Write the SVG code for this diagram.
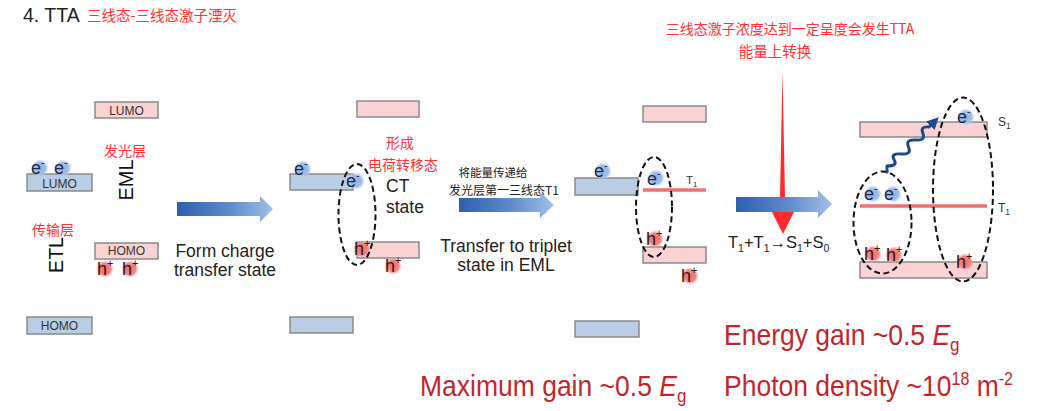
<svg xmlns="http://www.w3.org/2000/svg" width="1056" height="411" viewBox="0 0 1056 411">
<style>
  .lat { font-family: "Liberation Sans", Arial, sans-serif; }
  .cjk { font-family: "Noto Sans CJK SC", "Noto Sans", sans-serif; fill: #ff3333; }
  .boxB { fill: #b9cde5; stroke: #8a8a8a; stroke-width: 1.5; }
  .boxP { fill: #f9d3d3; stroke: #8a8a8a; stroke-width: 1.5; }
  .blab { font-family: "Liberation Sans", Arial, sans-serif; font-size: 12px; fill: #333; text-anchor: middle; }
  .big { font-family: "Liberation Sans", Arial, sans-serif; font-size: 17.5px; fill: #222; }
  .el { fill: none; stroke: #111; stroke-width: 2; stroke-dasharray: 6 3.5; }
  .t1 { stroke: #f07070; stroke-width: 3.5; }
  .ee { font-family: "Liberation Sans", Arial, sans-serif; font-size: 18px; fill: #1c2a4a; }
  .hh { font-family: "Liberation Sans", Arial, sans-serif; font-size: 18px; fill: #3a1414; }
  .sm { font-family: "Liberation Sans", Arial, sans-serif; font-size: 11.5px; fill: #333; }
  .res { font-family: "Liberation Sans", Arial, sans-serif; font-size: 26.5px; fill: #c0272d; }
  .gb { fill: url(#gB); }
  .gr { fill: url(#gR); }
</style>
<defs>
  <radialGradient id="gB">
    <stop offset="0" stop-color="#8fb0e0" stop-opacity="1"/>
    <stop offset="0.65" stop-color="#9fbce6" stop-opacity="0.95"/>
    <stop offset="1" stop-color="#c4d6f0" stop-opacity="0"/>
  </radialGradient>
  <radialGradient id="gR">
    <stop offset="0" stop-color="#ee6e6e" stop-opacity="1"/>
    <stop offset="0.65" stop-color="#f08080" stop-opacity="0.95"/>
    <stop offset="1" stop-color="#f6b0b0" stop-opacity="0"/>
  </radialGradient>
  <linearGradient id="ag" x1="0" y1="0" x2="1" y2="0">
    <stop offset="0" stop-color="#2f5fae"/>
    <stop offset="0.55" stop-color="#5f8bcc"/>
    <stop offset="1" stop-color="#a3bfe5"/>
  </linearGradient>
  <marker id="wh" viewBox="0 0 10 10" refX="2" refY="5" markerWidth="4" markerHeight="4" orient="auto" markerUnits="strokeWidth">
    <path d="M0,0 L10,5 L0,10 z" fill="#1f4a8a"/>
  </marker>
</defs>
<rect width="1056" height="411" fill="#ffffff"/>

<g id="title">
  <text class="lat" x="23" y="22" font-size="19.5" fill="#222">4. TTA</text>
  <text class="cjk" x="87" y="21" font-size="14.5">三线态-三线态激子湮灭</text>
</g>

<g id="panel1">
  <rect class="boxB" x="27" y="174" width="65" height="17"/>
  <text class="blab" x="59.5" y="187.5">LUMO</text>
  <rect class="boxB" x="27" y="317" width="65" height="17"/>
  <text class="blab" x="59.5" y="330">HOMO</text>
  <rect class="boxP" x="95" y="102" width="63" height="16"/>
  <text class="blab" x="126.5" y="114.5">LUMO</text>
  <rect class="boxP" x="95" y="243" width="63" height="16"/>
  <text class="blab" x="126.5" y="255">HOMO</text>
  <circle class="gb" cx="40" cy="168" r="9"/>
  <circle class="gb" cx="63" cy="168" r="9"/>
  <text class="ee" x="31" y="174">e<tspan dy="-8" font-size="11">-</tspan></text>
  <text class="ee" x="54" y="174">e<tspan dy="-8" font-size="11">-</tspan></text>
  <circle class="gr" cx="105" cy="269" r="9"/>
  <circle class="gr" cx="130" cy="269" r="9"/>
  <text class="hh" x="97" y="275">h<tspan dy="-8" font-size="11">+</tspan></text>
  <text class="hh" x="122" y="275">h<tspan dy="-8" font-size="11">+</tspan></text>
  <text class="cjk" x="104" y="156" font-size="14">发光层</text>
  <text class="cjk" x="32" y="235" font-size="14">传输层</text>
  <text class="lat" transform="translate(133,180) rotate(-90)" text-anchor="middle" font-size="20" fill="#111">EML</text>
  <text class="lat" transform="translate(63,255) rotate(-90)" text-anchor="middle" font-size="19.5" fill="#111">ETL</text>
</g>

<g id="step1">
  <path d="M177,202 L260,202 L260,196 L273,209 L260,222 L260,216 L177,216 Z" fill="url(#ag)"/>
  <text class="big" x="225" y="257" text-anchor="middle">Form charge</text>
  <text class="big" x="225" y="276" text-anchor="middle">transfer state</text>
</g>

<g id="panel2">
  <rect class="boxP" x="357" y="101" width="62" height="16"/>
  <rect class="boxB" x="290" y="174" width="63" height="16"/>
  <rect class="boxP" x="357" y="242" width="62" height="16"/>
  <rect class="boxB" x="290" y="317" width="63" height="16"/>
  <circle class="gb" cx="303" cy="169" r="9"/>
  <text class="ee" x="294" y="175">e<tspan dy="-8" font-size="11">-</tspan></text>
  <circle class="gb" cx="356" cy="181" r="9"/>
  <text class="ee" x="346" y="187">e<tspan dy="-8" font-size="11">-</tspan></text>
  <circle class="gr" cx="362" cy="249" r="9"/>
  <text class="hh" x="354" y="255">h<tspan dy="-8" font-size="11">+</tspan></text>
  <circle class="gr" cx="393" cy="266" r="9"/>
  <text class="hh" x="385" y="272">h<tspan dy="-8" font-size="11">+</tspan></text>
  <ellipse class="el" cx="357" cy="214.5" rx="18.5" ry="50.5"/>
  <text class="cjk" x="400" y="148" font-size="14" text-anchor="middle">形成</text>
  <text class="cjk" x="403" y="170" font-size="14" text-anchor="middle">电荷转移态</text>
  <text class="big" x="386" y="192">CT</text>
  <text class="big" x="386" y="213">state</text>
</g>

<g id="step2">
  <text class="cjk" x="493" y="177" font-size="11.5" text-anchor="middle" style="fill:#222">将能量传递给</text>
  <text class="cjk" x="504" y="194.5" font-size="12" text-anchor="middle" style="fill:#222">发光层第一三线态T1</text>
  <path d="M459,198 L540,198 L540,192 L554,205 L540,218 L540,212 L459,212 Z" fill="url(#ag)"/>
  <text class="big" x="506" y="252" text-anchor="middle">Transfer to triplet</text>
  <text class="big" x="506" y="271" text-anchor="middle">state in EML</text>
</g>

<g id="panel3">
  <rect class="boxP" x="643" y="106" width="63" height="16"/>
  <rect class="boxB" x="575" y="178" width="63" height="17"/>
  <line class="t1" x1="643" y1="190" x2="706" y2="190"/>
  <text class="sm" x="686" y="184">T<tspan dy="3" font-size="8">1</tspan></text>
  <rect class="boxP" x="643" y="247" width="63" height="16"/>
  <rect class="boxB" x="575" y="321" width="64" height="16"/>
  <circle class="gb" cx="603" cy="171" r="9"/>
  <text class="ee" x="594" y="177">e<tspan dy="-8" font-size="11">-</tspan></text>
  <circle class="gb" cx="656" cy="178" r="9"/>
  <text class="ee" x="647" y="185">e<tspan dy="-8" font-size="11">-</tspan></text>
  <circle class="gr" cx="655" cy="239" r="9"/>
  <text class="hh" x="646" y="245">h<tspan dy="-8" font-size="11">+</tspan></text>
  <circle class="gr" cx="690" cy="276" r="9"/>
  <text class="hh" x="681" y="282">h<tspan dy="-8" font-size="11">+</tspan></text>
  <ellipse class="el" cx="654" cy="207" rx="18" ry="50"/>
</g>

<g id="note">
  <text class="cjk" x="790" y="34" font-size="14" text-anchor="middle">三线态激子浓度达到一定呈度会发生TTA</text>
  <text class="cjk" x="775" y="57" font-size="14.5" text-anchor="middle">能量上转换</text>
</g>

<g id="step3">
  <text class="lat" x="728" y="248" font-size="16.5" fill="#222">T<tspan dy="4" font-size="10.5">1</tspan><tspan dy="-4">+T</tspan><tspan dy="4" font-size="10.5">1</tspan><tspan dy="-4">→S</tspan><tspan dy="4" font-size="10.5">1</tspan><tspan dy="-4">+S</tspan><tspan dy="4" font-size="10.5">0</tspan></text>
</g>

<g id="panel4">
  <rect class="boxP" x="860" y="122" width="127" height="15"/>
  <line class="t1" x1="860" y1="206" x2="987" y2="206" stroke-width="4"/>
  <rect class="boxP" x="860" y="262" width="127" height="16"/>
  <text class="lat" x="998" y="126" font-size="12" fill="#333">S<tspan dy="3" font-size="8.5">1</tspan></text>
  <text class="lat" x="998" y="212" font-size="12" fill="#333">T<tspan dy="3" font-size="8.5">1</tspan></text>
  <circle class="gb" cx="873" cy="194" r="9"/>
  <circle class="gb" cx="893" cy="194" r="9"/>
  <text class="ee" x="864" y="200">e<tspan dy="-8" font-size="11">-</tspan></text>
  <text class="ee" x="884" y="200">e<tspan dy="-8" font-size="11">-</tspan></text>
  <circle class="gr" cx="873" cy="254" r="9"/>
  <circle class="gr" cx="894" cy="255" r="9"/>
  <text class="hh" x="864" y="260">h<tspan dy="-8" font-size="11">+</tspan></text>
  <text class="hh" x="886" y="261">h<tspan dy="-8" font-size="11">+</tspan></text>
  <circle class="gb" cx="966" cy="117" r="9"/>
  <text class="ee" x="957" y="123">e<tspan dy="-8" font-size="11">-</tspan></text>
  <circle class="gr" cx="965" cy="262" r="9"/>
  <text class="hh" x="956" y="268">h<tspan dy="-8" font-size="11">+</tspan></text>
  <ellipse class="el" cx="882.5" cy="222.5" rx="29" ry="51"/>
  <ellipse class="el" cx="963" cy="189.5" rx="30" ry="92"/>
</g>

<g id="connectors">
  <path d="M782.5,72 L785.3,213 L779.7,213 Z" fill="#ff2b2b"/>
  <path d="M772,212 L794,212 L783,234 Z" fill="#ff2b2b"/>
  <path d="M736,197 L818,197 L818,190 L832,204 L818,218 L818,212 L736,212 Z" fill="url(#ag)"/>
  <path d="M887,172 L887,166 Q898,166 894.2,160 Q890,153 901.3,154 Q912,155 908.5,147 Q905,139 915.6,140 Q926,141 922.8,133 Q920,126 929,127 L932,124" fill="none" stroke="#1f4a8a" stroke-width="3" stroke-linecap="round" stroke-linejoin="round" marker-end="url(#wh)"/>
</g>

<g id="results">
  <text class="res" transform="translate(724,345) scale(1,1.12)">Energy gain ~0.5 <tspan font-style="italic">E</tspan><tspan dy="5" font-size="17">g</tspan></text>
  <text class="res" transform="translate(420,396) scale(1,1.12)">Maximum gain ~0.5 <tspan font-style="italic">E</tspan><tspan dy="5" font-size="17">g</tspan></text>
  <text class="res" transform="translate(724,396) scale(1,1.12)">Photon density ~10<tspan dy="-10" font-size="16">18</tspan><tspan dy="10"> m</tspan><tspan dy="-10" font-size="16">-2</tspan></text>
</g>
</svg>
